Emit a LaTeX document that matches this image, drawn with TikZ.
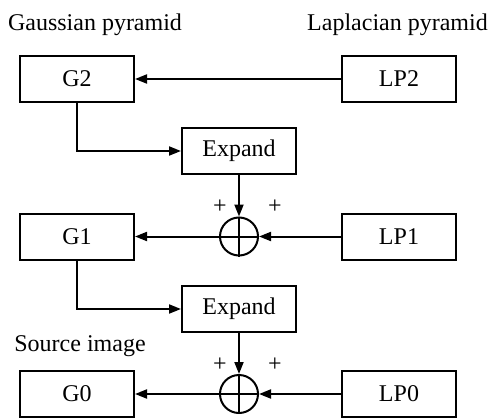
\documentclass[tikz,border=0pt]{standalone}
\usepackage{fontspec}
\setmainfont{Liberation Serif}
\usetikzlibrary{arrows.meta}
\begin{document}
\begin{tikzpicture}[x=1pt,y=-1pt,
  font=\fontsize{24}{28}\selectfont,
  blk/.style={draw,line width=2pt,minimum width=114pt,minimum height=46pt,inner sep=0pt},
  sumnode/.style={draw,circle,line width=2pt,minimum size=38pt,inner sep=0pt},
  arr/.style={line width=2pt,-{Triangle[length=12pt,width=9pt]}},
  ln/.style={line width=2pt},
  lbl/.style={inner sep=0pt}]
\useasboundingbox (0,0) rectangle (491,418);
\node[lbl] (tg) at (95,25) {Gaussian pyramid};
\node[lbl] (tl) at (397.5,25) {Laplacian pyramid};
\node[lbl] (ts) at (80,346) {Source image};
\node[blk] (G2) at (77,79) {G2};
\node[blk] (LP2) at (399,79) {LP2};
\node[blk] (E1) at (239,151) {Expand};
\node[blk] (G1) at (77,236.5) {G1};
\node[blk] (LP1) at (399,236.5) {LP1};
\node[sumnode] (C1) at (239,236.5) {};
\node[blk] (E2) at (239,309) {Expand};
\node[blk] (G0) at (77,394) {G0};
\node[blk] (LP0) at (399,394) {LP0};
\node[sumnode] (C0) at (239,394) {};
\node[lbl] (p1a) at (220,207) {+};
\node[lbl] (p1b) at (275,207) {+};
\node[lbl] (p0a) at (220,364.5) {+};
\node[lbl] (p0b) at (275,364.5) {+};
\draw[ln] (C1.north) -- (C1.south) (C1.west) -- (C1.east);
\draw[ln] (C0.north) -- (C0.south) (C0.west) -- (C0.east);
\draw[arr] (LP2.west) -- (G2.east);
\draw[arr] (G2.south) |- (E1.west);
\draw[arr] (E1.south) -- (C1.north);
\draw[arr] (LP1.west) -- (C1.east);
\draw[arr] (C1.west) -- (G1.east);
\draw[arr] (G1.south) |- (E2.west);
\draw[arr] (E2.south) -- (C0.north);
\draw[arr] (LP0.west) -- (C0.east);
\draw[arr] (C0.west) -- (G0.east);
\end{tikzpicture}
\end{document}
